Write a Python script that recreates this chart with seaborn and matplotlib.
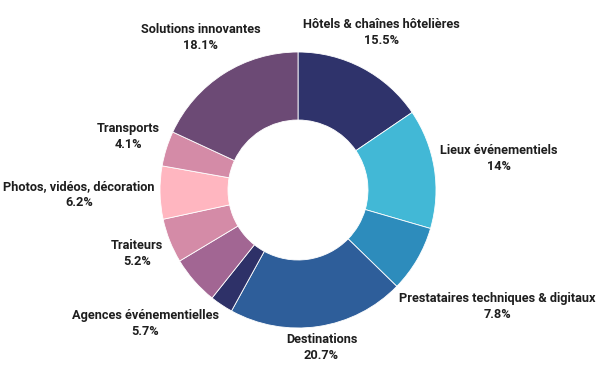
import matplotlib
matplotlib.use("Agg")
import matplotlib.pyplot as plt
import seaborn as sns
import numpy as np

categories = ["Hôtels & chaînes hôtelières", "Lieux événementiels",
              "Prestataires techniques & digitaux", "Destinations", "Autres",
              "Agences événementielles", "Traiteurs", "Photos, vidéos, décoration",
              "Transports", "Solutions innovantes"]
values = [15.5, 14.0, 7.8, 20.7, 2.7, 5.7, 5.2, 6.2, 4.1, 18.1]
value_labels = ["15.5%", "14%", "7.8%", "20.7%", "", "5.7%", "5.2%", "6.2%", "4.1%", "18.1%"]
show_label = [True, True, True, True, False, True, True, True, True, True]
colors = ["#2f336b", "#42b8d6", "#2d8cbc", "#2e5e9a", "#2e3168",
          "#a26693", "#d48ba7", "#ffb6c0", "#d48ba7", "#6c4a75"]

sns.set_theme(style="white")
plt.rcParams['font.family'] = ['Roboto', 'DejaVu Sans']

W, H = 599, 366
fig = plt.figure(figsize=(W / 100, H / 100), dpi=100)
ax = fig.add_axes([0, 0, 1, 1])

cx, cy, R = 298, H - 190, 138
wedges, _ = ax.pie(values, colors=colors, startangle=90, counterclock=False,
                   radius=R, center=(cx, cy), frame=True,
                   wedgeprops=dict(width=68, edgecolor="white", linewidth=0.6))
ax.set_xlim(0, W)
ax.set_ylim(0, H)
ax.axis("off")

fig.canvas.draw()
renderer = fig.canvas.get_renderer()

R0 = 143
for wdg, cat, vl, show in zip(wedges, categories, value_labels, show_label):
    if not show:
        continue
    th = np.deg2rad((wdg.theta1 + wdg.theta2) / 2)
    u = np.array([np.cos(th), np.sin(th)])
    t = ax.text(cx, cy, f"{cat}\n{vl}", ha="center", va="center", fontsize=9.2,
                fontweight="semibold", color="#1e1e1e", linespacing=1.3)
    bb = t.get_window_extent(renderer)
    w, h = bb.width / 2, bb.height / 2
    d = R0
    while True:
        c = np.array([cx, cy]) + d * u
        nx = np.clip(cx, c[0] - w, c[0] + w)
        ny = np.clip(cy, c[1] - h, c[1] + h)
        if np.hypot(nx - cx, ny - cy) >= R0:
            break
        d += 0.5
    t.set_position((c[0], c[1]))

fig.savefig("out.png", dpi=100)
